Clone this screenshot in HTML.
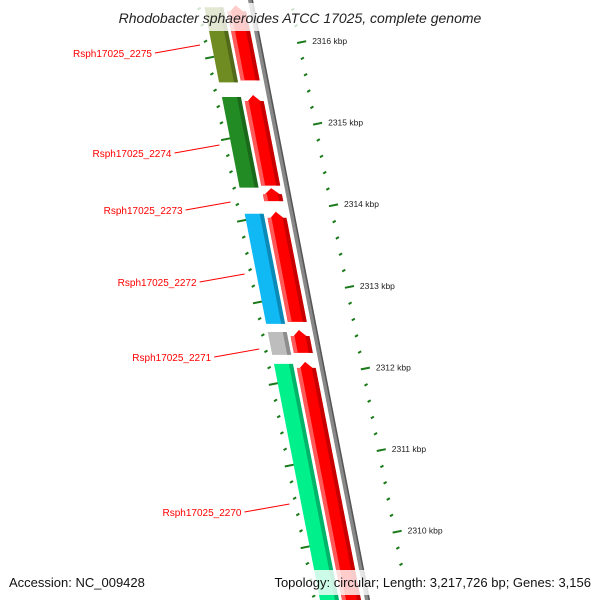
<!DOCTYPE html>
<html><head><meta charset="utf-8"><style>
body{margin:0;background:#fff}
svg{display:block;font-family:"Liberation Sans",sans-serif}
</style></head><body>
<svg id="chart" width="600" height="600" viewBox="0 0 600 600">
<g id="ticks"></g>
<g id="genes"></g>
<g id="labels"></g>
<rect x="95" y="3" width="410" height="28" fill="#fff" opacity="0.8"/>
<text x="300" y="23" text-anchor="middle" font-size="14" font-style="italic" fill="#222">Rhodobacter sphaeroides ATCC 17025, complete genome</text>
<rect x="0" y="570" width="600" height="25" fill="#fff" opacity="0.8"/>
<text x="9" y="587" font-size="13" fill="#111">Accession: NC_009428</text>
<text x="591" y="587" font-size="13" fill="#111" text-anchor="end">Topology: circular; Length: 3,217,726 bp; Genes: 3,156</text>
</svg>
<script>
const geneNames=["Rsph17025_2275","Rsph17025_2274","Rsph17025_2273","Rsph17025_2272","Rsph17025_2271","Rsph17025_2270"];
const geneStarts=[2316.45,2315.35,2314.21,2313.92,2312.47,2312.08];
const geneEnds=[2315.53,2314.24,2314.05,2312.57,2312.19,2308.9];
const cogColors=["#6e8c22","#238b23",null,"#10b8f4","#bdbdbd","#00f08c"];
const tickKbp=[2316,2315,2314,2313,2312,2311,2310];
const labelY=[54,154,211,283,358,513];

const NS="http://www.w3.org/2000/svg";
function yOf(g){return 42+(2316-g)*81.6;}
function xOf(y,off){return 250+0.195*y+off;}
function mk(tag,attrs,parent){const e=document.createElementNS(NS,tag);for(const k in attrs)e.setAttribute(k,attrs[k]);parent.appendChild(e);return e;}
const T=document.getElementById('ticks'),G=document.getElementById('genes'),L=document.getElementById('labels');

// backbone
let bb=mk('polygon',{points:`${xOf(-10,-2)},-10 ${xOf(-10,3)},-10 ${xOf(610,3)},610 ${xOf(610,-2)},610`,fill:'#888'},G);


let bb2=mk('polygon',{points:`${xOf(-10,1.5)},-10 ${xOf(-10,3)},-10 ${xOf(610,3)},610 ${xOf(610,1.5)},610`,fill:'#555'},G);



function strip(y1,y2,o1,o2,fill,arrow){
  let pts;
  if(arrow){const m=(o1+o2)/2;const h=Math.min(9,(y2-y1)*0.6);
    pts=`${xOf(y1+h,o1)},${y1+h} ${xOf(y1,m)},${y1} ${xOf(y1+h,o2)},${y1+h} ${xOf(y2,o2)},${y2} ${xOf(y2,o1)},${y2}`;}
  else pts=`${xOf(y1,o1)},${y1} ${xOf(y1,o2)},${y1} ${xOf(y2,o2)},${y2} ${xOf(y2,o1)},${y2}`;
  return mk('polygon',{points:pts,fill:fill},G);
}
for(let i=0;i<geneNames.length;i++){
  const y1=yOf(geneStarts[i]),y2=yOf(geneEnds[i]);
  let r=strip(y1,y2,-25,-6,'#ff0000',true);
  
  
  let rd=strip(y1+6,y2,-10,-6,'#c80000',false);
  
  
  let rl=strip(y1+6,y2,-25,-21,'#ff5a5a',false);
  
  
  if(cogColors[i]){
    let c=strip(y1+2,y2+2,-47,-28,cogColors[i],false);
    
    
    let cd=strip(y1+2,y2+2,-32,-28,'rgba(0,0,0,0.25)',false);
    
    
  }
  const ly=labelY[i], gy=(y1+y2)/2;
  const lx2=xOf(ly-8,-57)-2;
  let ln=mk('line',{x1:lx2-45,y1:ly-1,x2:lx2,y2:ly-9,stroke:'#f00','stroke-width':1},L);
  
  
  let tx=mk('text',{x:lx2-48,y:ly+3,'text-anchor':'end','font-size':10,fill:'#f00'},L);
  tx.textContent=geneNames[i];
  
  
}
// tick rings
for(let k=-5;k<=40;k++){
  const g=2316.6-k*0.2; const major=Math.abs(Math.round(g)-g)<1e-6;
  // right ring
  const y=yOf(g);
  if(y>-5&&y<570){
    const a=major?39:39.5,b=major?48:42.5;
    let t=mk('line',{x1:xOf(y,a),y1:y+1,x2:xOf(y,b),y2:y-0.8,stroke:'#1a7a1a','stroke-width':2},T);
    
    
  }
  // left ring (offset)
  const yl=y+15.5;
  if(yl>-5&&yl<600){
    const a=major?-56:-54,b=major?-47:-51;
    let t=mk('line',{x1:xOf(yl,a),y1:yl+1,x2:xOf(yl,b),y2:yl-0.8,stroke:'#1a7a1a','stroke-width':2},T);
    
    
  }
}
for(const kb of tickKbp){
  const y=yOf(kb);
  let t=mk('text',{x:xOf(y,54),y:y+2,'font-size':8.5,fill:'#222'},T);
  t.textContent=kb+' kbp';
  
  
}
</script>
</body></html>
